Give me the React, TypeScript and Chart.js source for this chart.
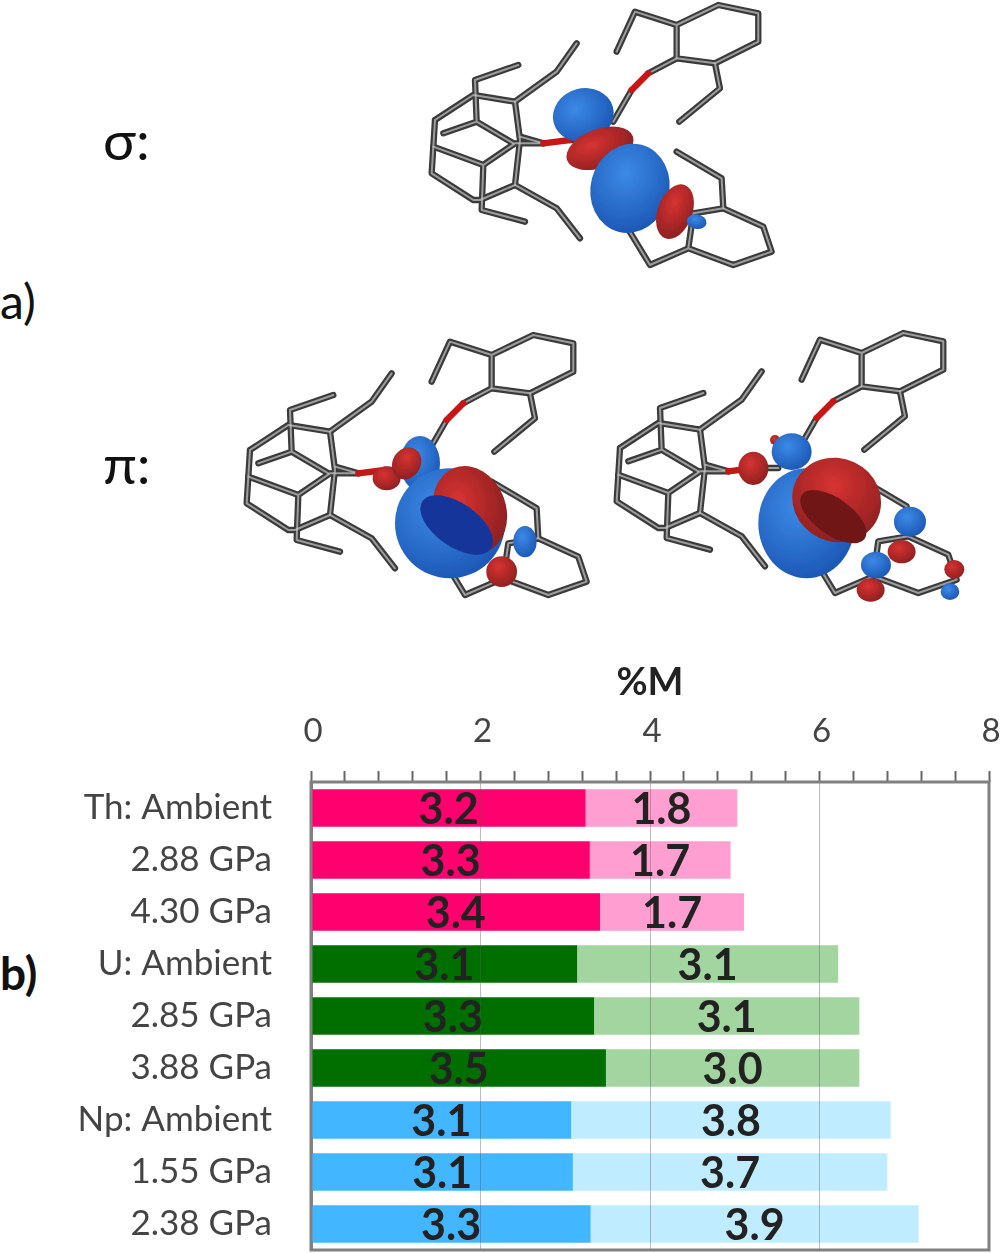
import { useEffect, useRef } from 'react';
import { Chart, registerables } from 'chart.js';

Chart.register(...registerables);

const categories = [
  'Th: Ambient', '2.88 GPa', '4.30 GPa',
  'U: Ambient', '2.85 GPa', '3.88 GPa',
  'Np: Ambient', '1.55 GPa', '2.38 GPa',
];
const sigmaValues = [3.24, 3.29, 3.41, 3.14, 3.34, 3.48, 3.07, 3.09, 3.30];
const piValues = [1.79, 1.66, 1.70, 3.08, 3.13, 2.99, 3.77, 3.71, 3.87];
const darkColors = ['#ff006e', '#ff006e', '#ff006e', '#006f00', '#006f00', '#006f00', '#42b6ff', '#42b6ff', '#42b6ff'];
const lightColors = ['#ff9ed0', '#ff9ed0', '#ff9ed0', '#a3d5a0', '#a3d5a0', '#a3d5a0', '#c0ecff', '#c0ecff', '#c0ecff'];

const FONT = 'Lato, "Open Sans", sans-serif';

// value labels in the middle of each bar segment, outline of the plot box
const barText = {
  id: 'barText',
  afterDraw(chart: Chart) {
    const { ctx, chartArea } = chart;
    ctx.save();
    ctx.strokeStyle = '#808080';
    ctx.lineWidth = 3;
    ctx.strokeRect(chartArea.left, chartArea.top, chartArea.width, chartArea.height);
    ctx.font = `bold 43px ${FONT}`;
    ctx.fillStyle = '#222';
    ctx.textAlign = 'center';
    ctx.textBaseline = 'middle';
    chart.data.datasets.forEach((ds, i) => {
      chart.getDatasetMeta(i).data.forEach((bar: any, j) => {
        const { x, base, y } = bar.getProps(['x', 'base', 'y'], true);
        ctx.fillText((ds.data[j] as number).toFixed(1), (x + base) / 2, y + 2);
      });
    });
    ctx.restore();
  },
};

const isMajor = (v: number) => Math.round(v * 10) % 20 === 0;

// ---- molecule drawings above the chart ----
const sticks = [
  'M650,155 L705,35 L830,75 L955,15 L1075,40 L1075,125 L945,190 L830,175 L830,75',
  'M945,190 L960,265 L838,365',
  'M830,175 L745,220 M695,270 L640,365',
  'M105,360 L220,285 L345,305 L360,420 L345,555 L240,600 L220,600 L95,520 L105,360',
  'M130,400 L230,365 L340,430 M230,365 L225,240 L355,195',
  'M345,305 L470,215 L530,130',
  'M100,440 L250,495 L345,430 L430,430 M250,495 L245,630 L375,665',
  'M345,555 L470,625 L540,715',
  'M360,410 L430,430 M510,420 L580,420',
  'M680,680 L750,795 L865,745 L1000,795 L1115,755 L1090,680 L970,625 L880,640 L865,745',
  'M970,625 L965,535 L830,455',
];

type Lobe = [string, number, number, number, number, number];

const sigmaLobes: Lobe[] = [
  ['b', 550, 345, 92, 80, -15],
  ['r', 600, 445, 105, 58, -20],
  ['b', 690, 565, 118, 135, 15],
  ['r', 825, 635, 52, 85, 20],
  ['b', 890, 665, 30, 22, 10],
];
const piLobes: Lobe[] = [
  ['b', 570, 430, 60, 82, 0],
  ['r', 470, 475, 42, 36, 0],
  ['r', 530, 430, 42, 50, 30],
  ['b', 660, 610, 165, 165, 0],
  ['r', 720, 570, 108, 135, -20],
  ['d', 680, 615, 125, 65, 35],
  ['b', 885, 665, 35, 47, 0],
  ['r', 815, 755, 46, 46, 0],
];
const pi2Lobes: Lobe[] = [
  ['b', 620, 610, 145, 165, 0],
  ['r', 525, 360, 15, 15, 0],
  ['r', 460, 445, 45, 50, 0],
  ['b', 575, 395, 60, 55, 0],
  ['r', 710, 540, 135, 125, 25],
  ['k', 700, 590, 115, 55, 35],
  ['r', 905, 695, 42, 35, 0],
  ['b', 930, 605, 48, 45, 0],
  ['r', 812, 810, 42, 35, 0],
  ['b', 828, 735, 45, 40, 0],
  ['r', 1063, 748, 30, 28, 0],
  ['b', 1050, 815, 28, 25, 0],
];

function Molecule({ x, y, dx, dy, lobes }: { x: number; y: number; dx: number; dy: number; lobes: Lobe[] }) {
  const fills: Record<string, string> = { b: 'url(#blue)', r: 'url(#red)', d: '#14359a', k: '#701818' };
  return (
    <g transform={`translate(${x},${y}) scale(0.3333)`} filter="url(#soft)">
      <g transform={`translate(${dx},${dy})`} fill="none" strokeLinejoin="round" strokeLinecap="round">
        {sticks.map((d, i) => <path key={i} d={d} stroke="#3a3a3a" strokeWidth={19} />)}
        {sticks.map((d, i) => <path key={'l' + i} d={d} stroke="#c8c8c8" strokeWidth={6} opacity={0.7} />)}
        <path d="M745,220 L695,270 M430,430 L510,420" stroke="#c81414" strokeWidth={19} />
      </g>
      {lobes.map(([c, cx, cy, rx, ry, rot], i) => (
        <ellipse key={i} cx={cx} cy={cy} rx={rx} ry={ry} fill={fills[c]} transform={`rotate(${rot} ${cx} ${cy})`} />
      ))}
    </g>
  );
}

export default function App() {
  const canvasRef = useRef<HTMLCanvasElement>(null);

  useEffect(() => {
    if (!canvasRef.current) return;
    const chart = new Chart(canvasRef.current, {
      type: 'bar',
      data: {
        labels: categories,
        datasets: [
          { label: 'sigma', data: sigmaValues, backgroundColor: darkColors },
          { label: 'pi', data: piValues, backgroundColor: lightColors },
        ],
      },
      options: {
        indexAxis: 'y',
        responsive: false,
        animation: false,
        layout: { padding: { left: 0, right: 11, top: 660, bottom: 3 } },
        barPercentage: 0.72,
        categoryPercentage: 1,
        plugins: { legend: { display: false }, tooltip: { enabled: false } },
        scales: {
          x: {
            position: 'top',
            stacked: true,
            min: 0,
            max: 8,
            afterFit: (s: any) => { s.height = 122; s.paddingLeft = 0; s.paddingRight = 0; },
            title: { display: true, text: '%M', color: '#222', font: { family: FONT, size: 38, weight: 'bold' }, padding: { top: 0, bottom: 0 } },
            // the top edge comes from the barText outline
            border: { display: false },
            grid: {
              z: 1,
              lineWidth: 1,
              tickLength: 11,
              tickWidth: 2,
              tickColor: '#666',
              color: (c: any) => (isMajor(c.tick.value) ? 'rgba(90,90,90,0.4)' : 'rgba(0,0,0,0)'),
            },
            ticks: {
              stepSize: 0.4,
              autoSkip: false,
              maxRotation: 0,
              padding: 20,
              labelOffset: 2,
              color: '#444',
              font: { family: FONT, size: 33 },
              callback: (v: any) => (isMajor(Number(v)) ? String(Math.round(Number(v))) : ''),
            },
          },
          y: {
            stacked: true,
            afterFit: (s: any) => { s.width = 311; s.paddingTop = 0; s.paddingBottom = 0; },
            border: { color: '#808080', width: 3 },
            grid: { display: false, drawTicks: false },
            ticks: { padding: 39, color: '#444', font: { family: FONT, size: 35 } },
          },
        },
      },
      plugins: [barText],
    });
    return () => chart.destroy();
  }, []);

  const labelStyle = { fontFamily: FONT, fill: '#111' };

  return (
    <div style={{ position: 'absolute', left: 0, top: 0, width: 1000, height: 1253, background: '#fff' }}>
      <svg width={1000} height={1253} style={{ position: 'absolute', left: 0, top: 0 }}>
        <defs>
          <radialGradient id="blue" cx="40%" cy="35%" r="70%">
            <stop offset="0%" stopColor="#3c8ae6" />
            <stop offset="100%" stopColor="#1c56b4" />
          </radialGradient>
          <radialGradient id="red" cx="40%" cy="35%" r="70%">
            <stop offset="0%" stopColor="#d83232" />
            <stop offset="100%" stopColor="#8c2020" />
          </radialGradient>
          <filter id="soft"><feGaussianBlur stdDeviation="2" /></filter>
        </defs>
        <Molecule x={400} y={0} dx={0} dy={0} lobes={sigmaLobes} />
        <Molecule x={230} y={320} dx={-45} dy={30} lobes={piLobes} />
        <Molecule x={600} y={320} dx={-45} dy={24} lobes={pi2Lobes} />
        <text x={103} y={160} fontSize={55} style={labelStyle}>σ:</text>
        <text x={103} y={484} fontSize={55} style={labelStyle}>π:</text>
        <text x={0} y={319} fontSize={48} style={labelStyle}>a)</text>
        <text x={0} y={990} fontSize={46} fontWeight="bold" style={labelStyle}>b)</text>
      </svg>
      <canvas ref={canvasRef} width={1000} height={1253} style={{ position: 'absolute', left: 0, top: 0 }} />
    </div>
  );
}
